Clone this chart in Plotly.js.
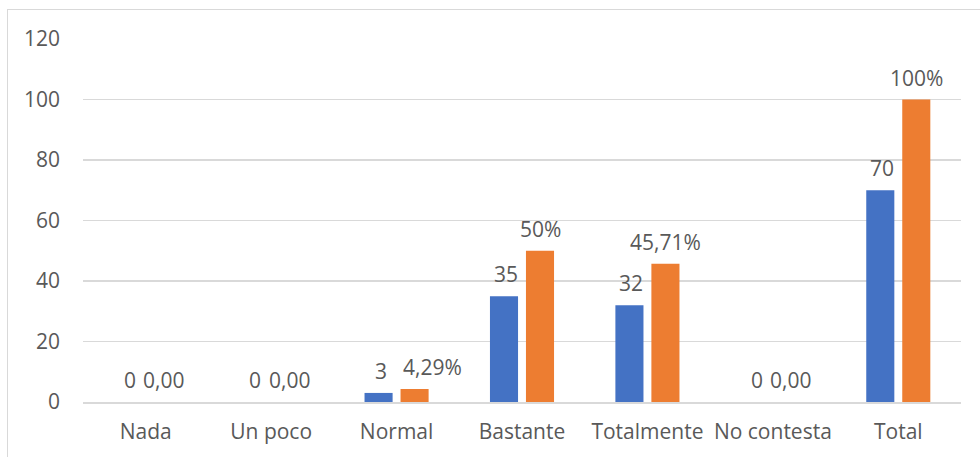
<!DOCTYPE html>
<html><head><meta charset="utf-8">
<script src="https://cdn.plot.ly/plotly-3.0.1.min.js"></script>
<style>
html,body{margin:0;padding:0;background:#fff;}
#wrap{position:absolute;left:7px;top:9px;width:973px;height:448px;border-left:1.5px solid #d9d9d9;border-top:1.5px solid #d9d9d9;box-sizing:border-box;}
#chart{position:absolute;left:0;top:0;width:980px;height:457px;}
</style></head>
<body>
<div id="wrap"></div>
<div id="chart"></div>
<script>
const categories = ["Nada","Un poco","Normal","Bastante","Totalmente","No contesta","Total"];
const counts = [0,0,3,35,32,0,70];
const percents = [0,0,4.29,50,45.71,0,100];
const countLabels = ["0","0","3","35","32","0","70"];
const percentLabels = ["0,00","0,00","4,29%","50%","45,71%","0,00","100%"];
const yTicks = [0,20,40,60,80,100,120];

const FONT = "'Open Sans', Lato, sans-serif";
const TXT = "#595959";
const FS = 21;
const PX_PER_UNIT = 363/120;   // plot height / y range
const CHAR_W = FS*0.57;
const OFF = 18;                // half distance between the two bars of a group

const traces = [
  {type:"bar", name:"Frecuencia", x:categories, y:counts, marker:{color:"#4472C4"}, hoverinfo:"none"},
  {type:"bar", name:"Porcentaje", x:categories, y:percents, marker:{color:"#ED7D31"}, hoverinfo:"none"}
];

const annotations = [];
categories.forEach((c,i)=>{
  annotations.push({x:c, y:counts[i], xref:"x", yref:"y", text:countLabels[i], showarrow:false,
    xshift:-OFF+2, yshift:6, yanchor:"bottom", font:{family:FONT,size:FS,color:TXT}});
  // avoid overlap of the two labels (as Excel does)
  const w1 = countLabels[i].length*CHAR_W, w2 = percentLabels[i].length*CHAR_W;
  const dy = Math.abs(counts[i]-percents[i])*PX_PER_UNIT;
  const collide = dy < 20 && (w1/2 + w2/2 + 4) > 2*OFF;
  annotations.push({x:c, y:percents[i], xref:"x", yref:"y", text:percentLabels[i], showarrow:false,
    xshift: collide ? 4 : OFF, xanchor: collide ? "left" : "center",
    yshift:6, yanchor:"bottom", font:{family:FONT,size:FS,color:TXT}});
});

const layout = {
  width:980, height:457,
  margin:{l:83, r:19, t:39, b:55},
  paper_bgcolor:"rgba(0,0,0,0)", plot_bgcolor:"rgba(0,0,0,0)",
  showlegend:false,
  barmode:"group", bargap:0.426, bargroupgap:0.22,
  font:{family:FONT, size:FS, color:TXT},
  xaxis:{type:"category", showgrid:false, zeroline:false, showline:true, linecolor:"#d9d9d9", linewidth:1.5,
    ticks:"", ticklabelstandoff:10, tickfont:{family:FONT,size:FS,color:TXT}},
  yaxis:{range:[0,120], tickvals:yTicks, ticktext:yTicks.map(String), showgrid:true, gridcolor:"#d9d9d9", gridwidth:1.5,
    zeroline:false, showline:false, ticks:"", ticklabelstandoff:22, tickfont:{family:FONT,size:FS,color:TXT}},
  annotations:annotations
};
Plotly.newPlot("chart", traces, layout, {staticPlot:true, displayModeBar:false});
</script>
</body></html>
